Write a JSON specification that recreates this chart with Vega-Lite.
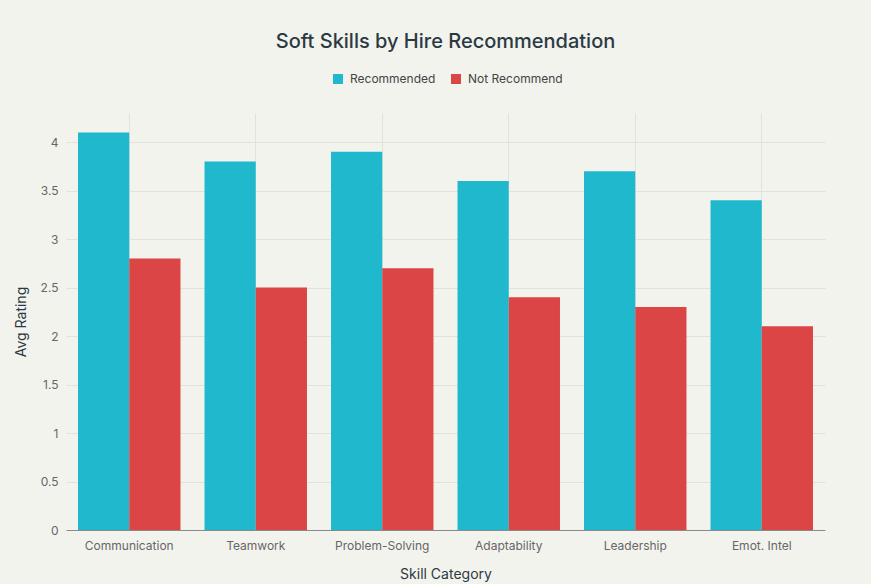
{
  "$schema": "https://vega.github.io/schema/vega-lite/v6.json",
  "width": 759,
  "height": 417,
  "autosize": {"type": "none"},
  "padding": {"left": 66, "top": 113, "right": 46, "bottom": 54},
  "background": "#F3F3EE",
  "title": {
    "text": "Soft Skills by Hire Recommendation",
    "anchor": "middle",
    "frame": "group",
    "offset": 21,
    "fontSize": 20,
    "fontWeight": 500,
    "font": "Inter",
    "color": "#2b3a42"
  },
  "config": {
    "view": {"stroke": null},
    "font": "Inter"
  },
  "data": {
    "values": [
      {"skill": "Communication", "group": "Recommended", "rating": 4.1},
      {"skill": "Communication", "group": "Not Recommend", "rating": 2.8},
      {"skill": "Teamwork", "group": "Recommended", "rating": 3.8},
      {"skill": "Teamwork", "group": "Not Recommend", "rating": 2.5},
      {"skill": "Problem-Solving", "group": "Recommended", "rating": 3.9},
      {"skill": "Problem-Solving", "group": "Not Recommend", "rating": 2.7},
      {"skill": "Adaptability", "group": "Recommended", "rating": 3.6},
      {"skill": "Adaptability", "group": "Not Recommend", "rating": 2.4},
      {"skill": "Leadership", "group": "Recommended", "rating": 3.7},
      {"skill": "Leadership", "group": "Not Recommend", "rating": 2.3},
      {"skill": "Emot. Intel", "group": "Recommended", "rating": 3.4},
      {"skill": "Emot. Intel", "group": "Not Recommend", "rating": 2.1}
    ]
  },
  "mark": {"type": "bar"},
  "encoding": {
    "x": {
      "field": "skill",
      "type": "nominal",
      "sort": null,
      "scale": {"paddingInner": 0.19, "paddingOuter": 0.095},
      "axis": {
        "title": "Skill Category",
        "titleFontSize": 14,
        "titleFontWeight": "normal",
        "titleColor": "#2b3a42",
        "titlePadding": 16,
        "labelAngle": 0,
        "labelFontSize": 12,
        "labelColor": "#666666",
        "labelPadding": 10,
        "ticks": false,
        "grid": true,
        "bandPosition": 0.5,
        "gridColor": "#e2e2dd",
        "domainColor": "#8a8a8a",
        "domainWidth": 1
      }
    },
    "xOffset": {
      "field": "group",
      "type": "nominal",
      "sort": ["Recommended", "Not Recommend"]
    },
    "y": {
      "field": "rating",
      "type": "quantitative",
      "scale": {"domain": [0, 4.3], "nice": false},
      "axis": {
        "title": "Avg Rating",
        "titleFontSize": 14,
        "titleFontWeight": "normal",
        "titleColor": "#2b3a42",
        "titlePadding": 12,
        "values": [0, 0.5, 1, 1.5, 2, 2.5, 3, 3.5, 4],
        "format": "~g",
        "labelFontSize": 12,
        "labelColor": "#666666",
        "labelPadding": 8,
        "ticks": false,
        "domain": false,
        "gridColor": "#e2e2dd"
      }
    },
    "color": {
      "field": "group",
      "type": "nominal",
      "sort": ["Recommended", "Not Recommend"],
      "scale": {"domain": ["Recommended", "Not Recommend"], "range": ["#1FB8CD", "#DB4545"]},
      "legend": {
        "title": null,
        "orient": "none",
        "direction": "horizontal",
        "legendX": 266,
        "legendY": -40,
        "symbolType": "square",
        "symbolSize": 100,
        "symbolStrokeWidth": 0,
        "labelFontSize": 12,
        "labelColor": "#444444",
        "columnPadding": 14,
        "labelOffset": 6
      }
    }
  }
}
